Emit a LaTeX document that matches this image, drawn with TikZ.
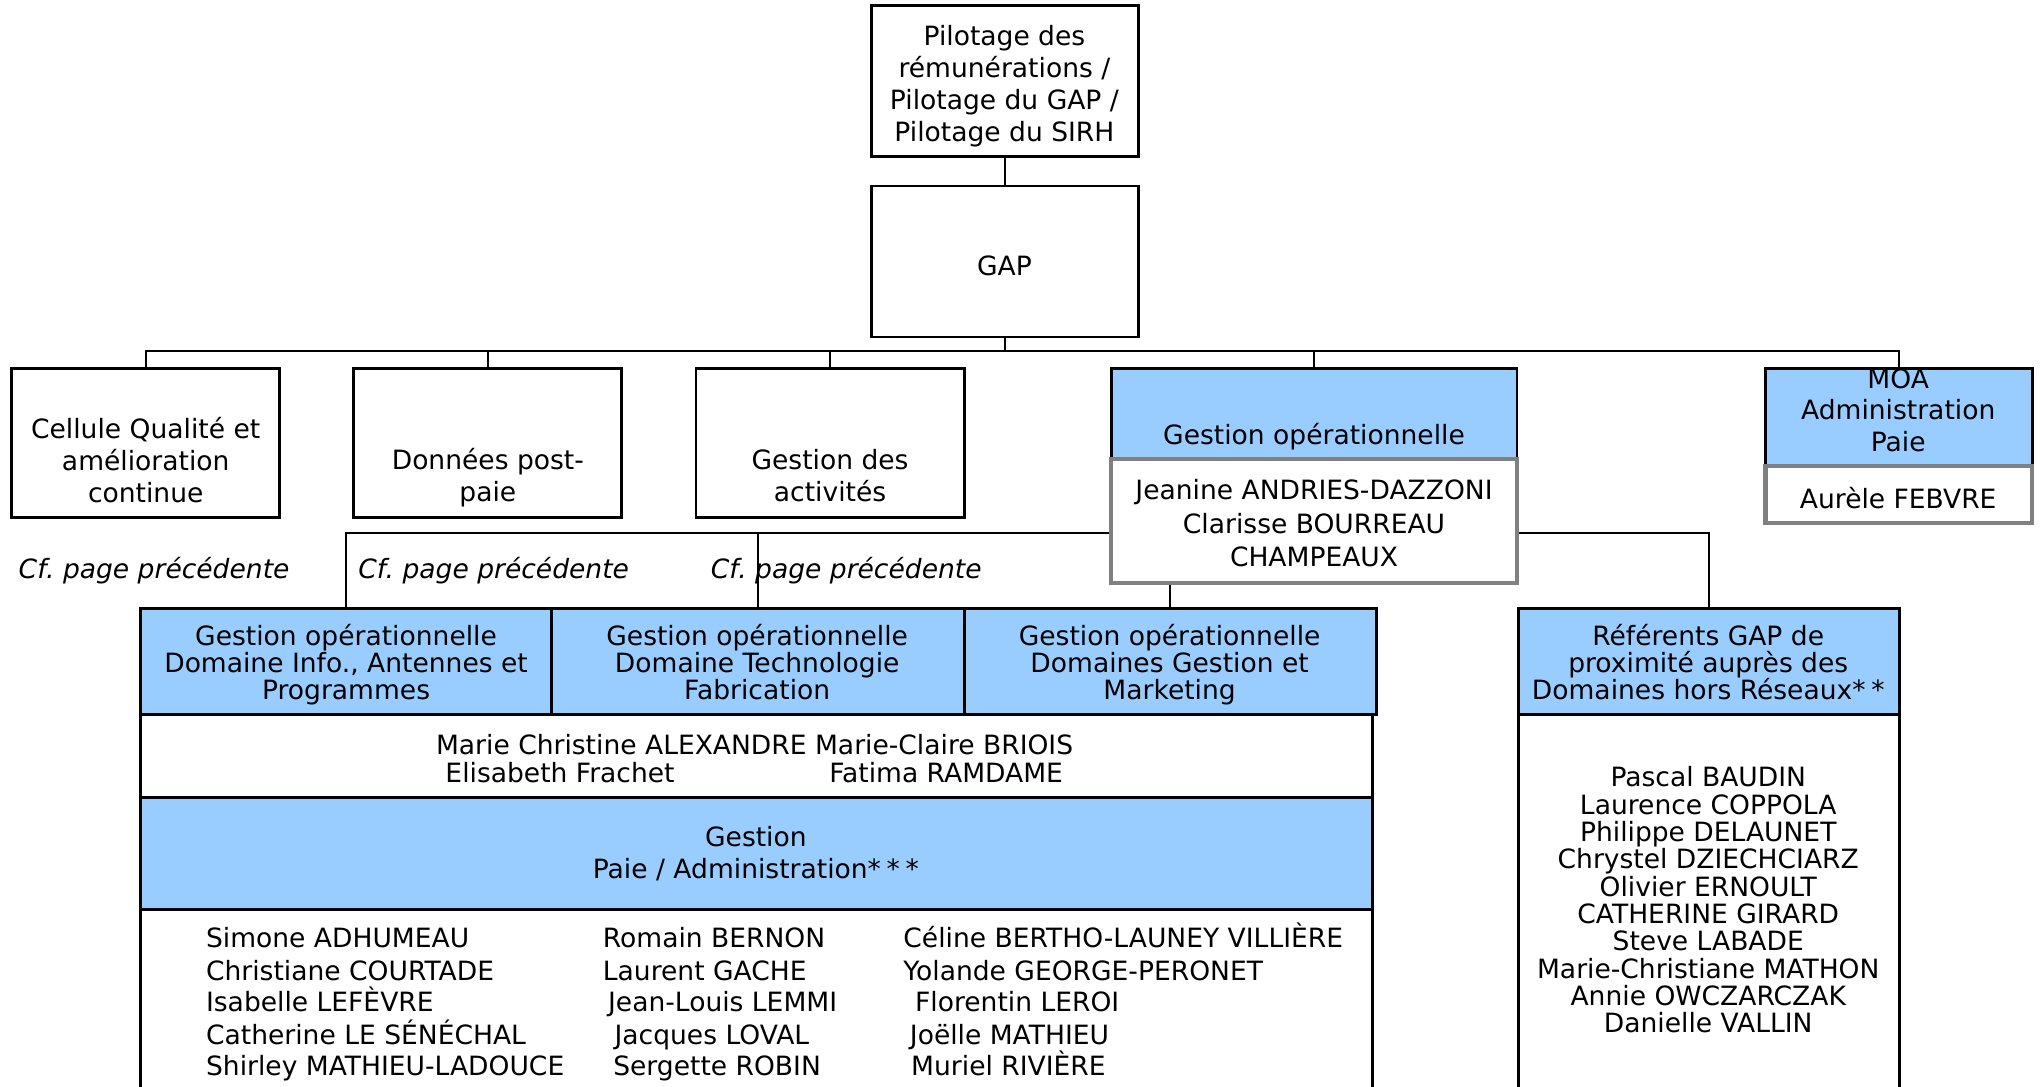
\documentclass[tikz,border=0pt]{standalone}
\usepackage{fontspec}
\setmainfont{DejaVu Sans}
\usetikzlibrary{fit}
\definecolor{boxblue}{HTML}{99CCFF}
\definecolor{boxgray}{HTML}{808080}
\newcommand\topstrut{\rule{0pt}{9.5pt}}
\newcommand\botstrut{\rule[-3pt]{0pt}{3pt}}
\newcommand\stars[1]{\ifcase#1\or*\or*\kern2.2pt*\or*\kern2.2pt*\kern2.2pt*\fi}
\tikzset{
  box/.style={draw=black, line width=1.1pt, fill=white, inner sep=0pt},
  bluebox/.style={box, fill=boxblue},
  graybox/.style={draw=boxgray, line width=1.7pt, fill=white, inner sep=0pt},
  conn/.style={draw=black, line width=0.8pt},
  strutted/.style={inner sep=0pt, execute at begin node=\topstrut, execute at end node=\botstrut},
  txt/.style={strutted, align=center, yshift=-1.1pt, font=\fontsize{10.2}{12.25}\selectfont},
  tighttxt/.style={strutted, align=center, yshift=-1.3pt, font=\fontsize{10.2}{10.5}\selectfont},
  lefttxt/.style={strutted, anchor=west, font=\fontsize{10.2}{12.25}\selectfont},
  cftxt/.style={strutted, anchor=west, font=\fontsize{10.2}{12.25}\selectfont\itshape},
}
\begin{document}
\begin{tikzpicture}[x=0.5pt,y=-0.5pt]
\useasboundingbox[fill=white] (0,0) rectangle (1568,835);
% boxes
\node[box, fit={(670,4) (875,120)}] (pil) {};
\node[box, fit={(670,143) (875,259)}] (gap) {};
\node[box, fit={(9,283) (215,398)}] (cel) {};
\node[box, fit={(272,283) (478,398)}] (don) {};
\node[box, fit={(535,283) (741,398)}] (act) {};
\node[bluebox, fit={(854,283) (1166,353)}] (goh) {};
\node[graybox, fit={(854,353) (1166,448)}] (gon) {};
\node[bluebox, fit={(1357,283) (1562,358)}] (moa) {};
\node[graybox, fit={(1357,358) (1562,402)}] (feb) {};
\node[bluebox, fit={(108,468) (424,549)}] (gia) {};
\node[bluebox, fit={(424,468) (741,549)}] (gtf) {};
\node[bluebox, fit={(741,468) (1058,549)}] (ggm) {};
\node[box, fit={(108,549) (1055,613)}] (nA) {};
\node[bluebox, fit={(108,613) (1055,699)}] (gpa) {};
\node[box, fit={(108,699) (1055,850)}] (nB) {};
\node[bluebox, fit={(1167,468) (1460,549)}] (ref) {};
\node[box, fit={(1167,549) (1460,850)}] (nC) {};
% connectors
\coordinate (bus) at (772,270);
\coordinate (bustwo) at (0,410);
\draw[conn] (pil.south) -- (gap.north);
\draw[conn] (gap.south) -- (gap.south |- bus);
\foreach \c in {cel,don,act,goh,moa} \draw[conn] (gap.south |- bus) -| (\c.north);
\draw[conn] (gon.west |- bustwo) -| (gia.north);
\draw[conn] (gon.west |- bustwo) -| (gtf.north);
\draw[conn] (gon.east |- bustwo) -| (ref.north);
\draw[conn] (gon.south -| ggm.north) -- (ggm.north);
% texts
\node[txt] (tpil) at (772,65) {Pilotage des\\rémunérations /\\Pilotage du GAP /\\Pilotage du SIRH};
\node[txt] (tgap) at (772,203) {GAP};
\node[txt] (tcel) at (112,354) {Cellule Qualité et\\amélioration\\continue};
\node[txt] (tdon) at (375,366) {Données post-\\paie};
\node[txt] (tact) at (638,366) {Gestion des\\activités};
\node[txt] (tgoh) at (1010,333) {Gestion opérationnelle};
\node[txt, font=\fontsize{10.2}{12.9}\selectfont] (tgon) at (1010,403) {Jeanine ANDRIES-DAZZONI\\Clarisse BOURREAU\\CHAMPEAUX};
\node[txt] (tmoa) at (1459,316) {MOA\\Administration\\Paie};
\node[txt] (tfeb) at (1459,382) {Aurèle FEBVRE};
\node[cftxt] (cfa) at (14,438) {Cf.\ page précédente};
\node[cftxt] (cfb) at (275,438) {Cf.\ page précédente};
\node[cftxt] (cfc) at (546,438) {Cf.\ page précédente};
\node[tighttxt] (tgia) at (266,509) {Gestion opérationnelle\\Domaine Info., Antennes et\\Programmes};
\node[tighttxt] (tgtf) at (582,509) {Gestion opérationnelle\\Domaine Technologie\\Fabrication};
\node[tighttxt] (tggm) at (899,509) {Gestion opérationnelle\\Domaines Gestion et\\Marketing};
\node[txt] (tnA) at (580,571) {Marie Christine ALEXANDRE Marie-Claire BRIOIS};
\node[lefttxt] (tnAa) at (342,595) {Elisabeth Frachet};
\node[lefttxt] (tnAb) at (637,595) {Fatima RAMDAME};
\node[txt] (tgpa) at (581,656) {Gestion\\Paie / Administration\stars{3}};
% column 1
\node[lefttxt] at (158,722) {Simone ADHUMEAU};
\node[lefttxt] at (158,747) {Christiane COURTADE};
\node[lefttxt] at (158,771) {Isabelle LEFÈVRE};
\node[lefttxt] at (158,796) {Catherine LE SÉNÉCHAL};
\node[lefttxt] at (158,820) {Shirley MATHIEU-LADOUCE};
% column 2
\node[lefttxt] at (463,722) {Romain BERNON};
\node[lefttxt] at (463,747) {Laurent GACHE};
\node[lefttxt] at (467,771) {Jean-Louis LEMMI};
\node[lefttxt] at (472,796) {Jacques LOVAL};
\node[lefttxt] at (471,820) {Sergette ROBIN};
% column 3
\node[lefttxt] at (694,722) {Céline BERTHO-LAUNEY VILLIÈRE};
\node[lefttxt] at (694,747) {Yolande GEORGE-PERONET};
\node[lefttxt] at (703,771) {Florentin LEROI};
\node[lefttxt] at (699,796) {Joëlle MATHIEU};
\node[lefttxt] at (700,820) {Muriel RIVIÈRE};
% referents
\node[tighttxt] (tref) at (1313,509) {Référents GAP de\\proximité auprès des\\Domaines hors Réseaux\stars{2}};
\node[tighttxt] (tnC) at (1313,692) {Pascal BAUDIN\\Laurence COPPOLA\\Philippe DELAUNET\\Chrystel DZIECHCIARZ\\Olivier ERNOULT\\CATHERINE GIRARD\\Steve LABADE\\Marie-Christiane MATHON\\Annie OWCZARCZAK\\Danielle VALLIN};
\end{tikzpicture}
\end{document}
